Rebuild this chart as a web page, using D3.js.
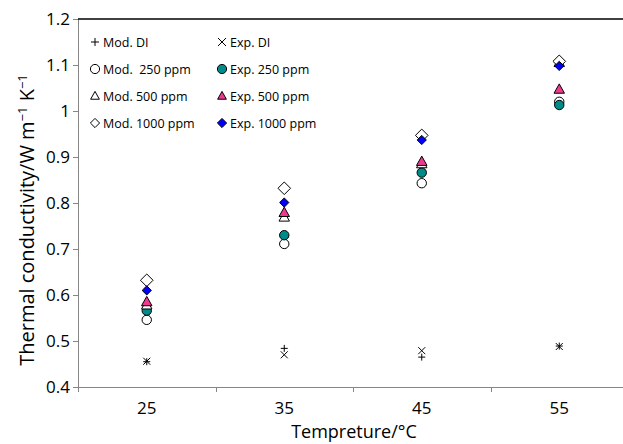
<!DOCTYPE html>
<html>
<head>
<meta charset="utf-8">
<script src="https://cdn.jsdelivr.net/npm/d3@7"></script>
<style>
  body { margin: 0; background: #fff; }
  svg text { font-family: "Open Sans", sans-serif; fill: #000; }
</style>
</head>
<body>
<svg id="chart" width="623" height="444"></svg>
<script>
// data
var temps = ['25', '35', '45', '55'];
var yTicks = [0.4, 0.5, 0.6, 0.7, 0.8, 0.9, 1.0, 1.1, 1.2];
var seriesNames = ['Mod. DI', 'Exp. DI', 'Mod.  250 ppm', 'Exp. 250 ppm', 'Mod. 500 ppm', 'Exp. 500 ppm', 'Mod. 1000 ppm', 'Exp. 1000 ppm'];
var modDI = [0.455, 0.484, 0.465, 0.489];
var expDI = [0.456, 0.470, 0.479, 0.488];
var mod250 = [0.546, 0.711, 0.843, 1.020];
var exp250 = [0.566, 0.730, 0.866, 1.013];
var mod500 = [0.578, 0.769, 0.885, 1.105];
var exp500 = [0.585, 0.779, 0.890, 1.047];
var mod1000 = [0.632, 0.832, 0.947, 1.108];
var exp1000 = [0.610, 0.801, 0.937, 1.098];

var allValues = [modDI, expDI, mod250, exp250, mod500, exp500, mod1000, exp1000];
var shapes = ['plus', 'x', 'circle', 'circle', 'tri', 'tri', 'diamond', 'diamond'];
var fills = ['none', 'none', '#ffffff', '#008b8b', '#ffffff', '#f0388f', '#ffffff', '#0000ff'];
var sizes = [3.5, 3.5, 4.7, 4.7, 5.5, 5.5, 6.3, 4.6];

var svg = d3.select('#chart');
var plotLeft = 78, plotRight = 628, plotTop = 19, plotBottom = 387;

var x = d3.scaleBand().domain(temps).range([plotLeft, plotRight]);
var y = d3.scaleLinear().domain([0.4, 1.2]).range([plotBottom, plotTop]);

function markerPath(shape, s) {
	if (shape === 'plus') return 'M' + (-s) + ',0H' + s + 'M0,' + (-s) + 'V' + s;
	if (shape === 'x') return 'M' + (-s) + ',' + (-s) + 'L' + s + ',' + s + 'M' + (-s) + ',' + s + 'L' + s + ',' + (-s);
	if (shape === 'circle') return d3.arc()({innerRadius: 0, outerRadius: s, startAngle: 0, endAngle: 2 * Math.PI});
	if (shape === 'tri') return 'M0,' + (-s) + 'L' + (s * 0.95) + ',' + (s * 0.7) + 'L' + (-s * 0.95) + ',' + (s * 0.7) + 'Z';
	if (shape === 'diamond') return 'M0,' + (-s) + 'L' + s + ',0L0,' + s + 'L' + (-s) + ',0Z';
}

// y axis
var yAxis = svg.append('g')
	.attr('transform', 'translate(' + plotLeft + ',0)')
	.call(d3.axisLeft(y).tickValues(yTicks).tickSize(5).tickPadding(3)
		.tickFormat(function (d) { return String(+d.toFixed(1)); }));
yAxis.select('.domain').attr('stroke', '#868686').attr('d', 'M0.5,' + plotTop + 'V' + (plotBottom + 5));
yAxis.selectAll('.tick line').attr('stroke', '#868686');
yAxis.selectAll('.tick text').attr('font-size', 17);

// x axis with ticks between categories
var xAxis = svg.append('g')
	.attr('transform', 'translate(0,' + plotBottom + ')')
	.call(d3.axisBottom(x).tickSize(0).tickPadding(15));
xAxis.select('.domain').attr('stroke', '#868686').attr('d', 'M' + plotLeft + ',0.5H' + 623);
xAxis.selectAll('.tick text').attr('font-size', 17);
xAxis.selectAll('.sep')
	.data(temps.slice(1))
	.enter().append('line')
	.attr('class', 'sep')
	.attr('x1', function (d) { return Math.round(x(d)) + 0.5; })
	.attr('x2', function (d) { return Math.round(x(d)) + 0.5; })
	.attr('y1', 0).attr('y2', 5)
	.attr('stroke', '#868686');

// top border line
svg.append('line')
	.attr('x1', plotLeft).attr('x2', 623)
	.attr('y1', plotTop).attr('y2', plotTop)
	.attr('stroke', '#000').attr('stroke-width', 1.5);

// points
allValues.forEach(function (vals, i) {
	svg.append('g').selectAll('path')
		.data(vals)
		.enter().append('path')
		.attr('d', markerPath(shapes[i], sizes[i]))
		.attr('transform', function (d, j) {
			return 'translate(' + (x(temps[j]) + x.bandwidth() / 2) + ',' + y(d) + ')';
		})
		.attr('fill', fills[i])
		.attr('stroke', '#000')
		.attr('stroke-width', 1);
});

// legend
var legendRows = [42, 69, 96, 123];
seriesNames.forEach(function (name, i) {
	var col = i % 2, row = Math.floor(i / 2);
	var lx = col === 0 ? 95 : 222;
	var ly = legendRows[row];
	svg.append('path')
		.attr('d', markerPath(shapes[i], shapes[i] === 'plus' || shapes[i] === 'x' ? 4 : 4.6))
		.attr('transform', 'translate(' + lx + ',' + ly + ')')
		.attr('fill', fills[i])
		.attr('stroke', '#000')
		.attr('stroke-width', 1);
	svg.append('text')
		.attr('x', lx + 8)
		.attr('y', ly + 5)
		.attr('font-size', 12.5)
		.style('white-space', 'pre')
		.text(name);
});

// axis titles
svg.append('text')
	.attr('x', 354)
	.attr('y', 438)
	.attr('text-anchor', 'middle')
	.attr('font-size', 18)
	.text('Tempreture/°C');

var yt = svg.append('text')
	.attr('transform', 'translate(34,' + 220 + ') rotate(-90)')
	.attr('text-anchor', 'middle')
	.attr('font-size', 20);
yt.append('tspan').text('Thermal conductivity/W m');
yt.append('tspan').attr('dy', -7).attr('font-size', 13).text('\u22121');
yt.append('tspan').attr('dy', 7).text(' K');
yt.append('tspan').attr('dy', -7).attr('font-size', 13).text('\u22121');
</script>
</body>
</html>
